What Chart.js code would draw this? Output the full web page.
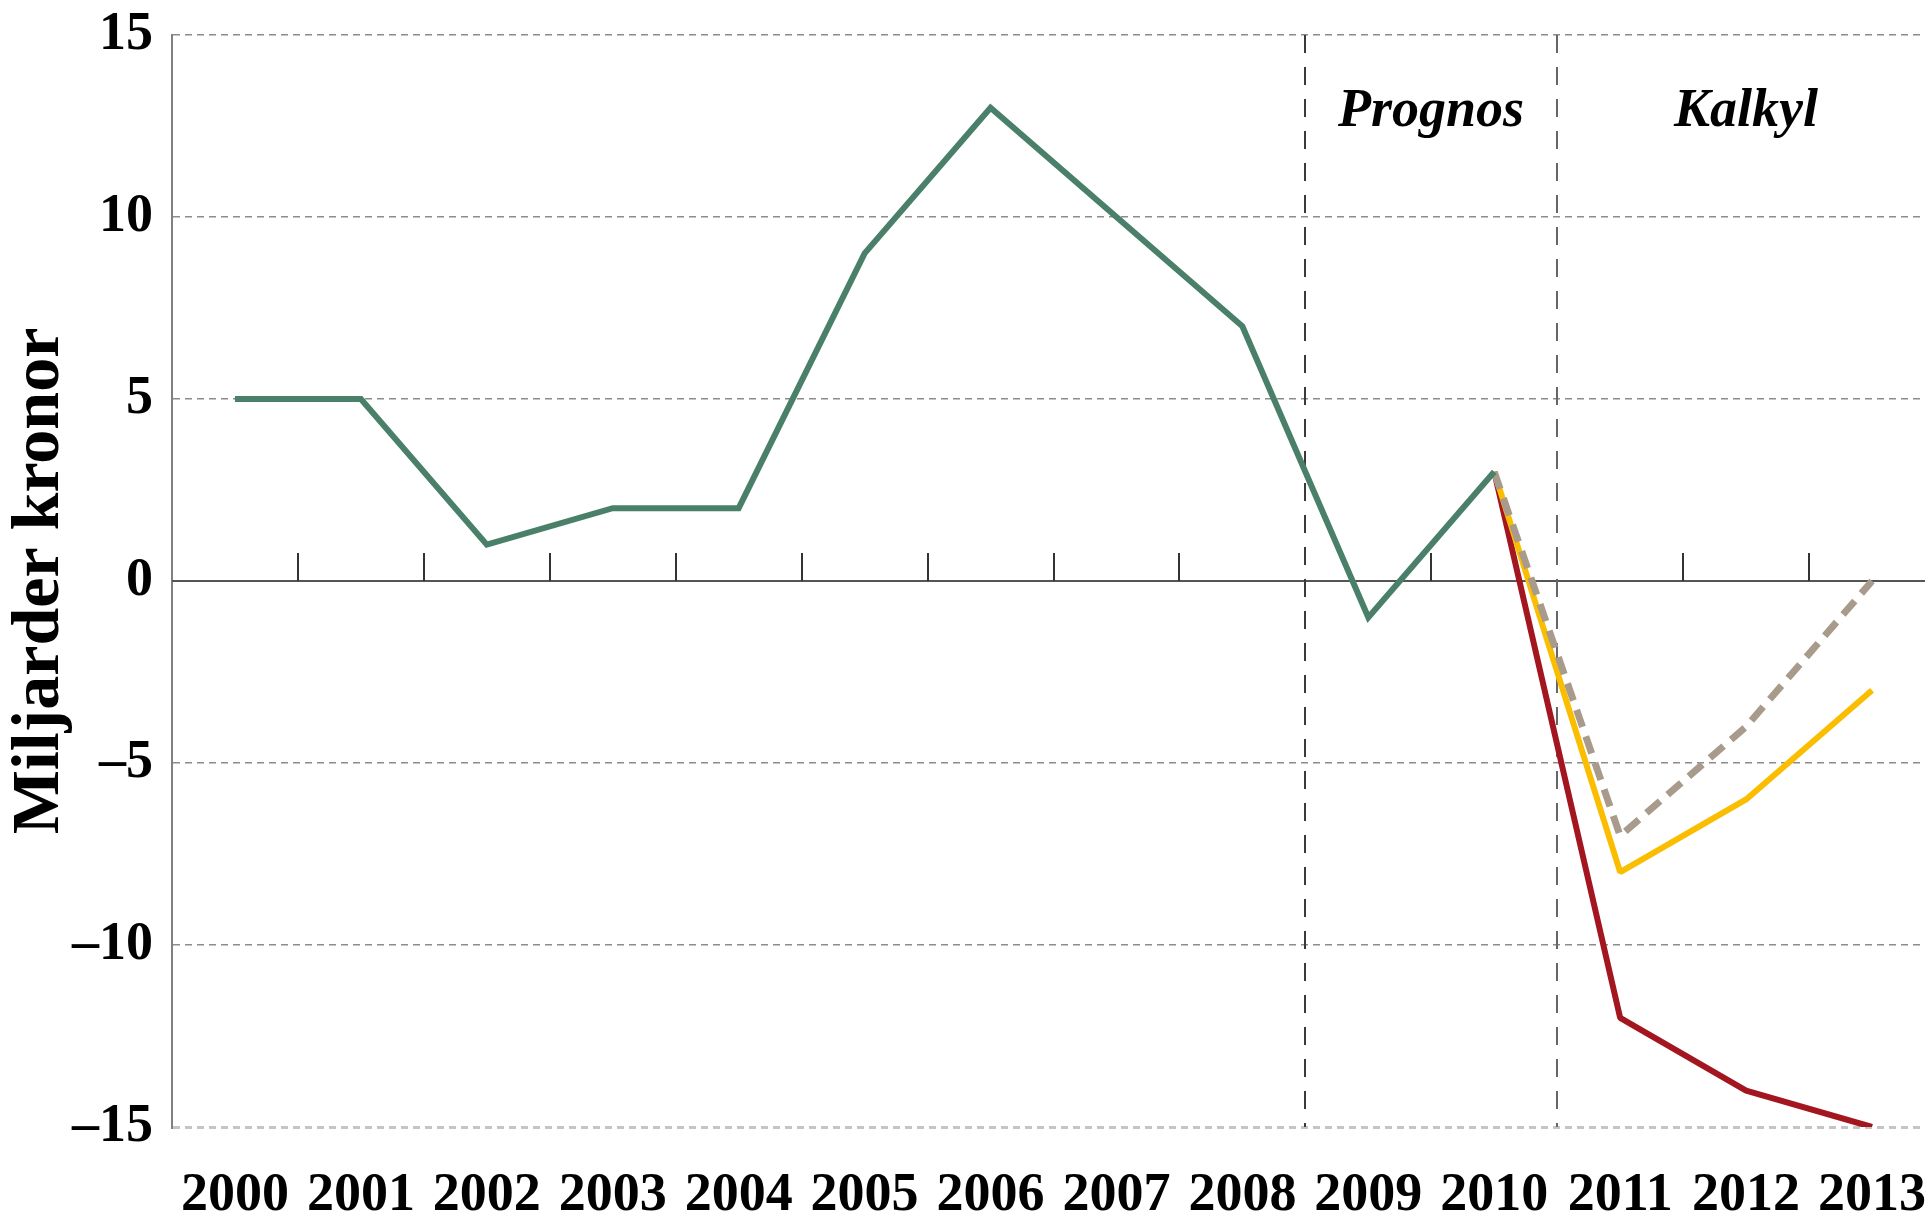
<!DOCTYPE html>
<html>
<head>
<meta charset="utf-8">
<script src="https://cdn.jsdelivr.net/npm/chart.js@4.4.1/dist/chart.umd.min.js"></script>
<style>
  html, body { margin: 0; padding: 0; background: #ffffff; overflow: hidden; }
  #wrap { width: 1935px; height: 1220px; position: relative; }
</style>
</head>
<body>
<div id="wrap"><canvas id="c"></canvas></div>
<script>
// ---- data ----
const years = ['2000','2001','2002','2003','2004','2005','2006','2007','2008','2009','2010','2011','2012','2013'];
const utfall  = [5, 5, 1, 2, 2, 9, 13, 10, 7, -1, 3, null, null, null];
const kalkylGra  = [null, null, null, null, null, null, null, null, null, null, 3, -7, -4, 0];
const kalkylGul  = [null, null, null, null, null, null, null, null, null, null, 3, -8, -6, -3];
const kalkylRod  = [null, null, null, null, null, null, null, null, null, null, 3, -12, -14, -15];
const yTicks = [-15, -10, -5, 0, 5, 10, 15];
const periodBreaks = ['2008', '2010'];       // period boundary after these years
const periodLabels = ['Prognos', 'Kalkyl'];
const yTitle = 'Miljarder kronor';

const SERIF = "'Liberation Serif', 'DejaVu Serif', serif";

const overlay = {
  id: 'overlay',
  beforeDatasetsDraw(chart) {
    const {ctx, chartArea: a, scales: {x, y}} = chart;
    const y0 = y.getPixelForValue(0);
    ctx.save();
    // zero line
    ctx.strokeStyle = '#555555';
    ctx.lineWidth = 2;
    ctx.setLineDash([]);
    ctx.beginPath(); ctx.moveTo(a.left, y0); ctx.lineTo(a.right, y0); ctx.stroke();
    const breakIdx = periodBreaks.map(b => years.indexOf(b));
    const bounds = [];
    for (let i = 0; i < years.length - 1; i++) {
      const bx = Math.round((x.getPixelForValue(i) + x.getPixelForValue(i + 1)) / 2);
      if (breakIdx.includes(i)) {
        bounds.push(bx);
        ctx.strokeStyle = breakIdx.indexOf(i) === 0 ? '#3a3a3a' : '#666666';
        ctx.lineWidth = 2;
        ctx.setLineDash([18, 14]);
        ctx.beginPath(); ctx.moveTo(bx, a.top); ctx.lineTo(bx, a.bottom); ctx.stroke();
      } else {
        ctx.strokeStyle = '#333333';
        ctx.lineWidth = 2;
        ctx.setLineDash([]);
        ctx.beginPath(); ctx.moveTo(bx, y0); ctx.lineTo(bx, y0 - 28); ctx.stroke();
      }
    }
    // period labels
    ctx.setLineDash([]);
    ctx.fillStyle = '#000000';
    ctx.font = "italic bold 54px " + SERIF;
    ctx.textAlign = 'center';
    ctx.textBaseline = 'alphabetic';
    const edges = [bounds[0], bounds[1], a.right];
    periodLabels.forEach((t, k) => {
      const cx = (edges[k] + edges[k + 1]) / 2;
      ctx.fillText(t, cx, a.top + 91);
    });
    ctx.restore();
  }
};

new Chart(document.getElementById('c'), {
  type: 'line',
  data: {
    labels: years,
    datasets: [
      { label: 'Utfall', data: utfall, borderColor: '#4a806a', borderWidth: 6, pointRadius: 0, borderJoinStyle: 'miter' },
      { label: 'Kalkyl 1', data: kalkylGra, borderColor: '#a89b8b', borderWidth: 7, borderDash: [18, 10], pointRadius: 0, borderJoinStyle: 'bevel' },
      { label: 'Kalkyl 2', data: kalkylGul, borderColor: '#fbbd00', borderWidth: 6, pointRadius: 0, borderJoinStyle: 'bevel' },
      { label: 'Kalkyl 3', data: kalkylRod, borderColor: '#a3161f', borderWidth: 6, pointRadius: 0, borderJoinStyle: 'bevel' }
    ]
  },
  options: {
    responsive: true,
    maintainAspectRatio: false,
    animation: false,
    layout: { padding: { top: 35, right: 0, bottom: 0, left: 0 } },
    plugins: { legend: { display: false }, tooltip: { enabled: false } },
    scales: {
      x: {
        offset: true,
        grid: { display: false, drawTicks: false },
        border: { display: false },
        ticks: {
          autoSkip: false, maxRotation: 0, minRotation: 0, padding: 37,
          color: '#000000',
          font: { family: SERIF, size: 54, weight: 'bold' }
        },
        afterFit: s => { s.height = 93; s.paddingLeft = 0; s.paddingRight = 0; }
      },
      y: {
        min: -15, max: 15,
        afterBuildTicks: s => { s.ticks = yTicks.map(v => ({ value: v })); },
        grid: {
          drawTicks: false,
          color: c => c.tick && c.tick.value === 0 ? 'rgba(0,0,0,0)' : (c.tick && c.tick.value === -15 ? '#c4c4c4' : '#8c8c8c'),
          lineWidth: c => c.tick && c.tick.value === -15 ? 3 : 1.5
        },
        border: { display: true, color: '#808080', width: 2, dash: [7, 5] },
        ticks: {
          padding: 19,
          color: '#000000',
          font: { family: SERIF, size: 54, weight: 'bold' },
          callback: v => v < 0 ? '\u2013' + Math.abs(v) : String(v)
        },
        title: {
          display: true, text: yTitle, color: '#000000', padding: 0,
          font: { family: SERIF, size: 68, weight: 'bold', lineHeight: 1.2 }
        },
        afterFit: s => { s.width = 172; s.paddingTop = 0; s.paddingBottom = 0; }
      }
    }
  },
  plugins: [overlay]
});
</script>
</body>
</html>
